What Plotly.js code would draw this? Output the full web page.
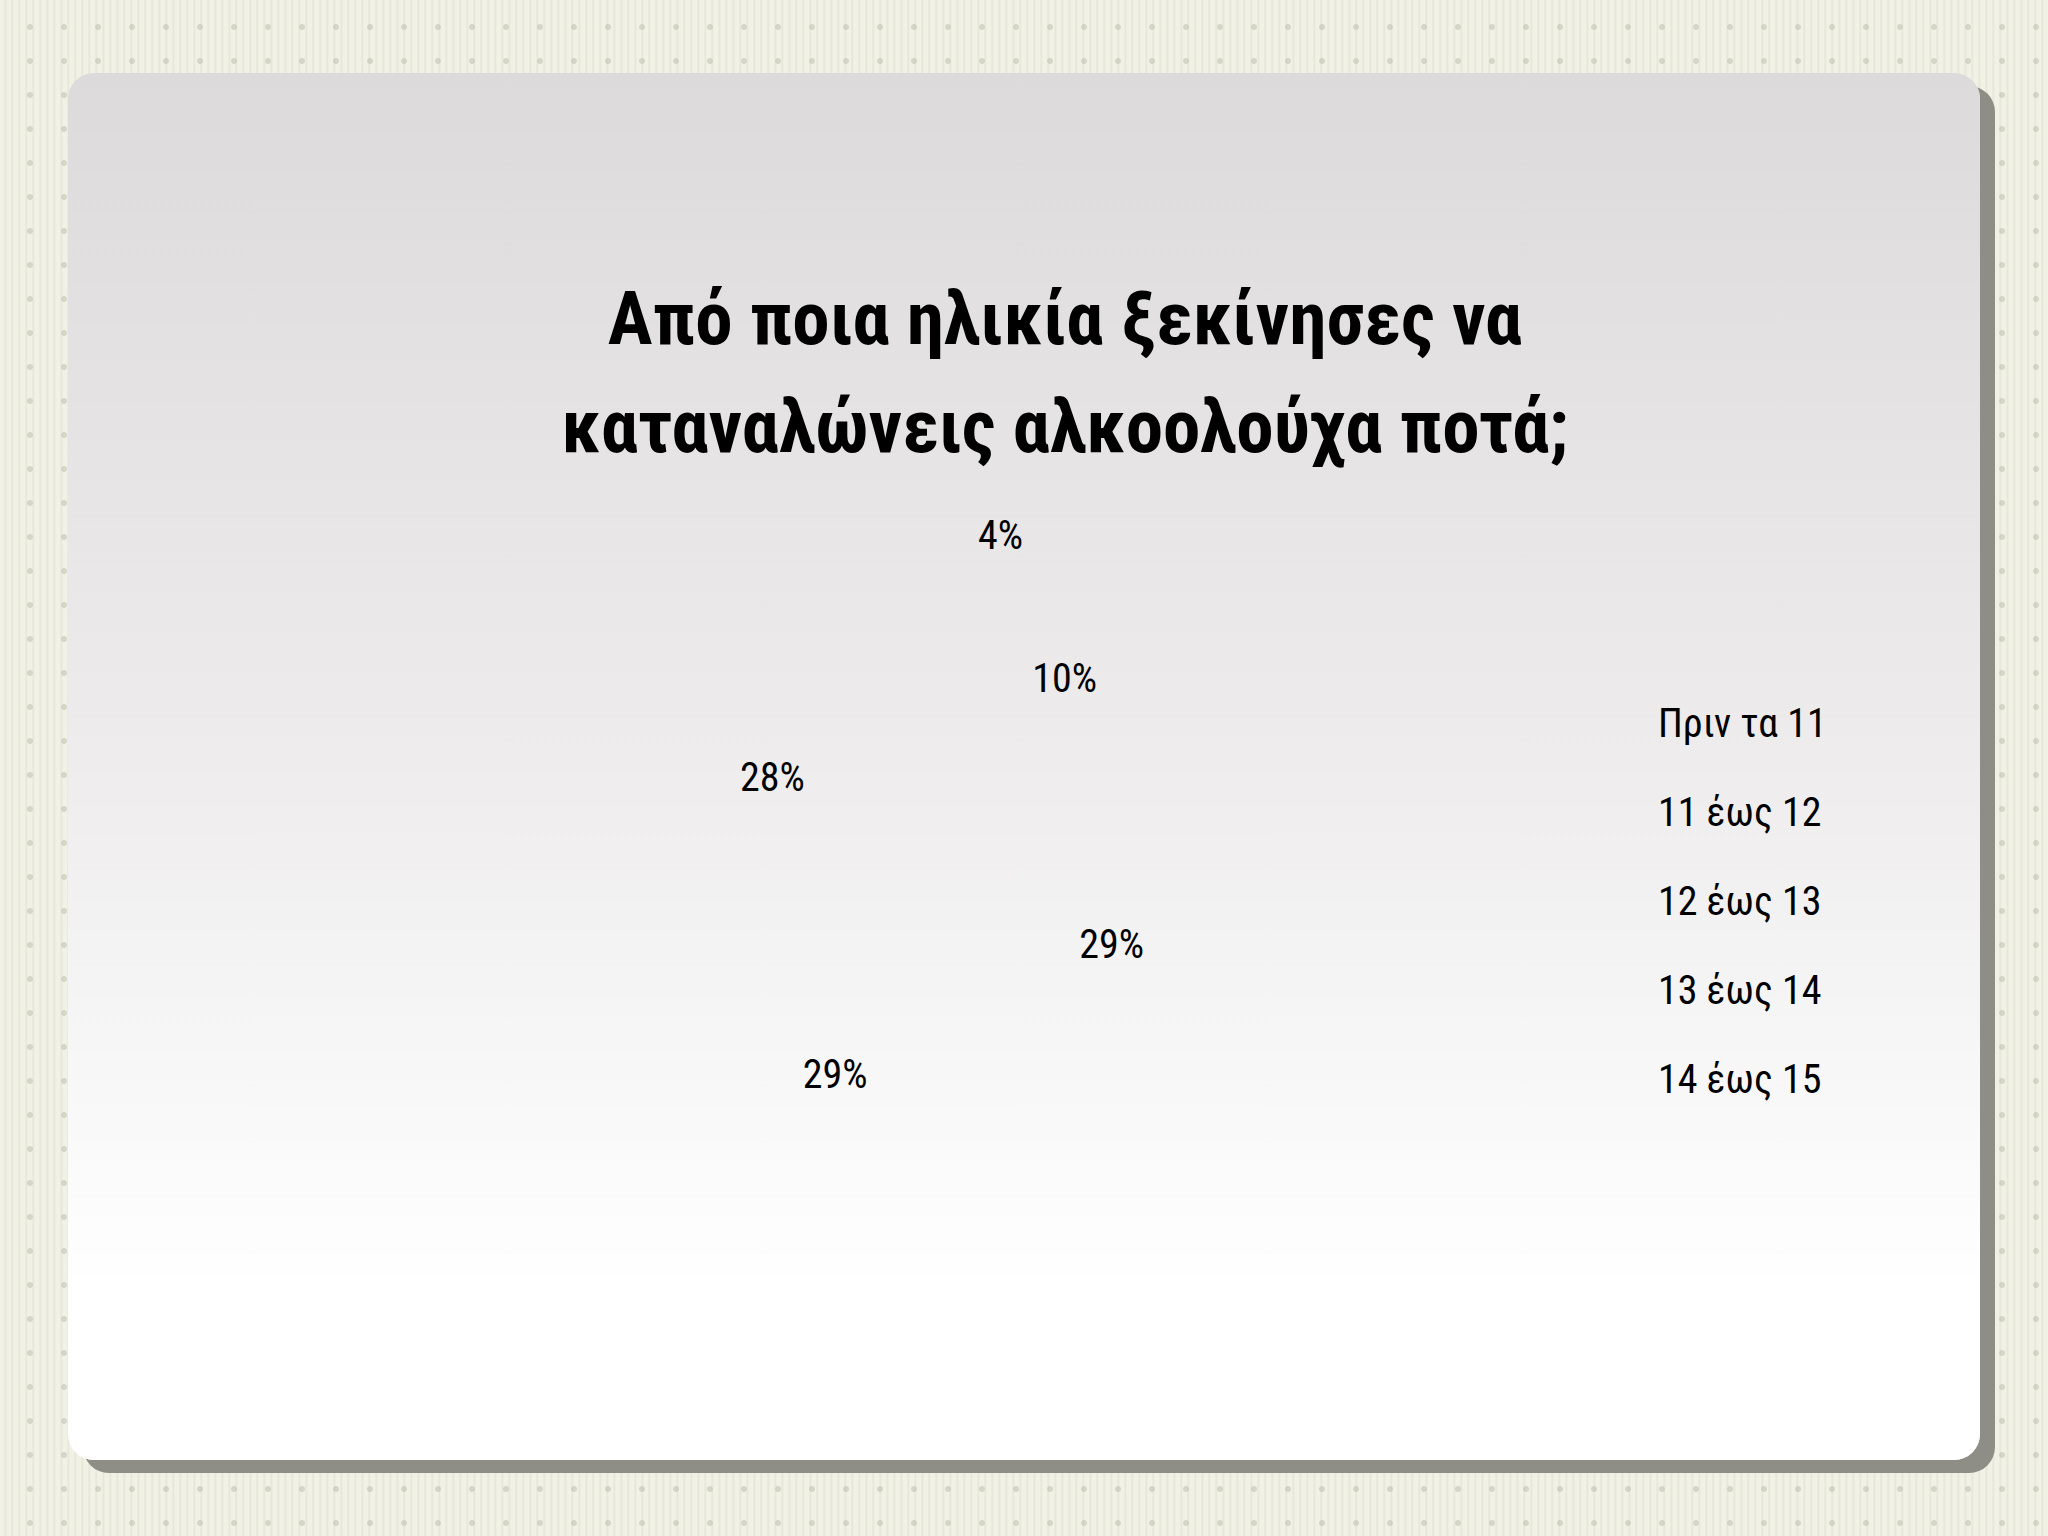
<!DOCTYPE html>
<html>
<head>
<meta charset="utf-8">
<script src="https://cdn.plot.ly/plotly-3.0.1.min.js"></script>
<style>
  html, body { margin:0; padding:0; width:2048px; height:1536px; overflow:hidden; }
  body {
    background-color:#efefe4;
    background-image:
      radial-gradient(circle, rgba(190,190,176,0.55) 2.5px, transparent 3.5px),
      repeating-linear-gradient(90deg, #f1f1e6 0px, #f1f1e6 4px, #e4e4d6 5px, #f1f1e6 7px);
    background-size: 34px 34px, 7px 100%;
    background-position: 13px 10px, 0 0;
    position:relative;
  }
  #card {
    position:absolute; left:68px; top:73px; width:1912px; height:1387px;
    border-radius:26px;
    background: linear-gradient(180deg, #dcdadb 0%, #eceaeb 45%, #ffffff 88%, #ffffff 100%);
    box-shadow: 15px 13px 0 0 #8e8e86;
  }
  #chart { position:absolute; left:0; top:0; width:2048px; height:1536px; }
</style>
</head>
<body>
<div id="card"></div>
<div id="chart"></div>
<script>
const categories = ["Πριν τα 11", "11 έως 12", "12 έως 13", "13 έως 14", "14 έως 15"];
const shares = [4, 10, 29, 29, 28];
const titleLines = ["Από ποια ηλικία ξεκίνησες να", "καταναλώνεις αλκοολούχα ποτά;"];

const fontFam = '"Roboto Condensed", "DejaVu Sans Condensed", "Liberation Sans Narrow", Roboto, sans-serif';

const trace = {
  type: 'pie',
  labels: categories.map(c => '<span style="font-size:40px">' + c + '</span>'),
  values: shares,
  sort: false,
  direction: 'clockwise',
  rotation: 0,
  marker: { colors: categories.map(() => 'rgba(0,0,0,0)'), line: { width: 0 } },
  textinfo: 'percent',
  texttemplate: '%{percent:.0%}',
  textposition: ['outside', 'inside', 'inside', 'inside', 'inside'],
  insidetextorientation: 'horizontal',
  textfont: { family: fontFam, size: 40, color: '#000' },
  outsidetextfont: { family: fontFam, size: 40, color: '#000' },
  domain: { x: [0.2817, 0.6196], y: [0.1875, 0.638] },
  hoverinfo: 'skip'
};

const layout = {
  width: 2048, height: 1536,
  margin: { l: 0, r: 0, t: 0, b: 0 },
  paper_bgcolor: 'rgba(0,0,0,0)',
  plot_bgcolor: 'rgba(0,0,0,0)',
  title: {
    text: titleLines.map(l => '<span style="font-size:75px">' + l + '</span>').join('<br>'),
    font: { family: fontFam, size: 83, color: '#000', weight: 'bold' },
    x: 0.52, xanchor: 'center',
    y: 0.776, yanchor: 'bottom'
  },
  showlegend: true,
  legend: {
    x: 0.79, xanchor: 'left',
    y: 0.421, yanchor: 'middle',
    font: { family: fontFam, size: 66, color: '#000' },
    bgcolor: 'rgba(0,0,0,0)',
    traceorder: 'normal'
  }
};

Plotly.newPlot('chart', [trace], layout, { staticPlot: true });
</script>
</body>
</html>
